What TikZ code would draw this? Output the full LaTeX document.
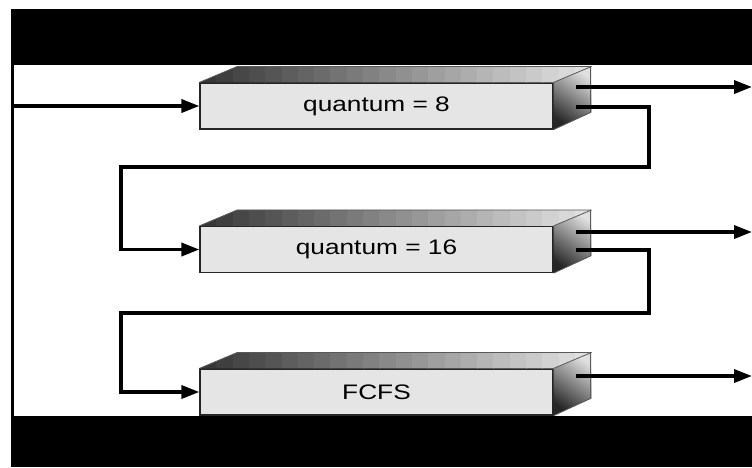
\documentclass[tikz,border=0pt]{standalone}
\usepackage{fontspec}
\usepackage{graphicx}
\newfontfamily\qfont{Liberation Sans}
\usetikzlibrary{arrows.meta,calc}
\begin{document}
\begin{tikzpicture}[x=1pt,y=-1pt,
  front/.style={draw=black!85, line width=1.2pt, fill=black!10, minimum width=353pt, minimum height=46pt, inner sep=0pt, font=\qfont\fontsize{21}{24}\selectfont},
  edge/.style={draw=black!65, line width=0.8pt},
  conn/.style={line width=3.5pt, draw=black},
  arr/.style={conn, -{Triangle[length=18pt,width=13pt]}},
  band/.style={fill=black}]
\useasboundingbox (0,0) rectangle (752,467);
\fill[band] (11,9) rectangle (752,65);
\fill[band] (11,416) rectangle (752,467);
\fill[band] (11,65) rectangle (14,416);
\foreach \n/\yc/\t in {q1/106/{quantum = 8}, q2/249.5/{quantum = 16}, q3/392/{FCFS}} {
  \node[front] (\n) at (376.5,\yc) {\scalebox{1.25}[1]{\t}};
  \begin{scope}
    \clip (\n.north west) -- ++(38,-16) -- ($(\n.north east)+(38,-16)$) -- (\n.north east) -- cycle;
    \foreach \i in {0,...,23} {
      \pgfmathsetmacro\k{78-66*\i/23}
      \fill[black!\k] ({200+\i*16.3},{\yc-42}) rectangle ++(16.8,22);
    }
  \end{scope}
  \shade[top color=black!12, bottom color=black!85, shading angle=-35] (\n.north east) -- ++(38,-16) -- ++(0,46) -- (\n.south east) -- cycle;
  \draw[edge] (\n.north west) -- ++(38,-16) -- ++(353,0) -- ++(0,46) -- (\n.south east);
  \draw[edge] (\n.north east) -- ++(38,-16);
}
% input
\coordinate (in) at (14,106);
\draw[arr] (in) -- (q1.west);
% exits
\coordinate (e1) at (576,87);  \coordinate (o1) at (752,87);
\coordinate (e2) at (576,232); \coordinate (o2) at (752,232);
\coordinate (e3) at (576,376); \coordinate (o3) at (752,376);
\draw[arr] (e1) -- (o1);
\draw[arr] (e2) -- (o2);
\draw[arr] (e3) -- (o3);
% feedback
\coordinate (f1) at (576,107);
\coordinate (f2) at (576,250);
\draw[arr] (f1) -- (649,107) -- (649,167) -- (121,167) |- (q2.west);
\draw[arr] (f2) -- (649,250) -- (649,313) -- (121,313) |- (q3.west);
\end{tikzpicture}
\end{document}
